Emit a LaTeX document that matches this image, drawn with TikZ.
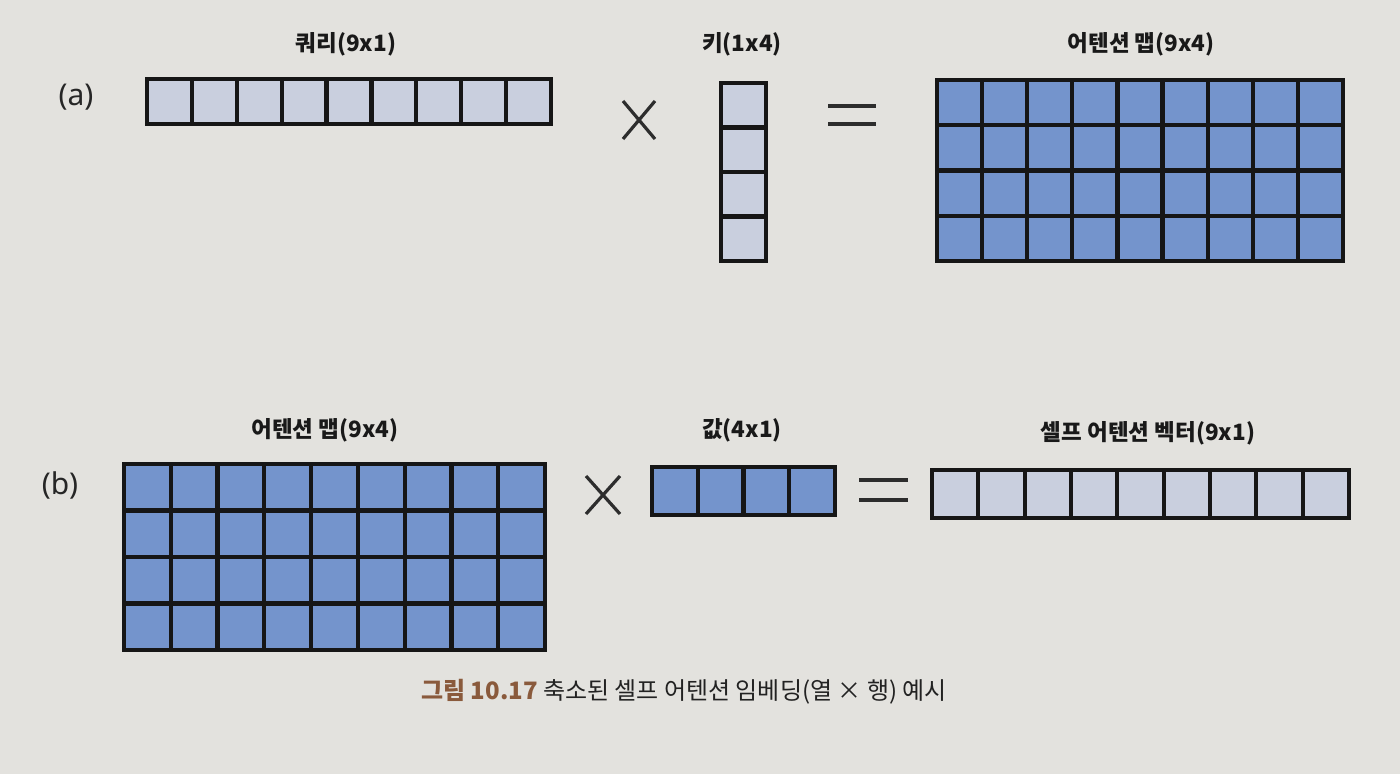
\documentclass[tikz,border=0pt]{standalone}
\usepackage{fontspec}
\setmainfont{Noto Sans CJK KR}
\newfontfamily\labfont{Noto Sans}
\definecolor{bgpaper}{HTML}{E3E2DE}
\definecolor{lightcell}{HTML}{C9CFDE}
\definecolor{bluecell}{HTML}{7494CC}
\definecolor{gridink}{HTML}{161616}
\definecolor{capbrown}{HTML}{8A5A3C}
\definecolor{capink}{HTML}{222222}
\newcommand\matgrid[8]{%
  % #1 name, #2 x0, #3 y0, #4 x1, #5 y1, #6 cols, #7 rows, #8 fill
  \path[fill=#8] (#2,#3) rectangle (#4,#5);
  \foreach \ii in {1,...,#6}{\ifnum\ii<#6\relax
    \draw[gridline] ({#2+(#4-#2)*\ii/#6},#3) -- ({#2+(#4-#2)*\ii/#6},#5);\fi}
  \foreach \jj in {1,...,#7}{\ifnum\jj<#7\relax
    \draw[gridline] (#2,{#3+(#5-#3)*\jj/#7}) -- (#4,{#3+(#5-#3)*\jj/#7});\fi}
  \draw[gridline] (#2,#3) rectangle (#4,#5);
  \coordinate (#1-n) at ({(#2+#4)/2},#3);
}
\tikzset{
  gridline/.style={draw=gridink, line width=4.2pt},
  opline/.style={draw=gridink!90, line width=3.2pt},
  matlabel/.style={font=\bfseries\fontsize{22.5}{24}\selectfont, text=black!90, inner sep=0pt},
  partlabel/.style={font=\labfont\fontsize{30}{32}\selectfont, text=black!85, inner sep=0pt},
}
\begin{document}
\begin{tikzpicture}[x=1pt,y=-1pt]
\fill[bgpaper] (0,0) rectangle (1400,774);
\useasboundingbox (0,0) rectangle (1400,774);

% (a)
\node[partlabel] (la) at (76,97) {(a)};
\matgrid{query}{147}{79}{551}{124}{9}{1}{lightcell}
\matgrid{key}{721}{83}{766}{261}{1}{4}{lightcell}
\matgrid{mapa}{937}{80}{1343}{261}{9}{4}{bluecell}
\node[matlabel] (tq) at (346,44) {쿼리(9x1)};
\node[matlabel] (tk) at (742,44) {키(1x4)};
\node[matlabel] (tma) at (1141,44) {어텐션 맵(9x4)};
\coordinate (xa1) at (623,101); \coordinate (xa2) at (655,139);
\coordinate (xa3) at (655,101); \coordinate (xa4) at (623,139);
\draw[opline] (xa1) -- (xa2) (xa3) -- (xa4);
\coordinate (ea1) at (828,106); \coordinate (ea2) at (876,106);
\coordinate (ea3) at (828,124); \coordinate (ea4) at (876,124);
\draw[opline] (ea1) -- (ea2) (ea3) -- (ea4);

% (b)
\node[partlabel] (lb) at (60,485) {(b)};
\matgrid{mapb}{124}{464}{545}{650}{9}{4}{bluecell}
\matgrid{val}{652}{467}{835}{515}{4}{1}{bluecell}
\matgrid{vec}{932}{470}{1349}{518}{9}{1}{lightcell}
\node[matlabel] (tmb) at (325,430) {어텐션 맵(9x4)};
\node[matlabel] (tv) at (742,430) {값(4x1)};
\node[matlabel] (tvec) at (1148,433) {셀프 어텐션 벡터(9x1)};
\coordinate (xb1) at (586,476); \coordinate (xb2) at (620,514);
\coordinate (xb3) at (620,476); \coordinate (xb4) at (586,514);
\draw[opline] (xb1) -- (xb2) (xb3) -- (xb4);
\coordinate (eb1) at (859,480); \coordinate (eb2) at (908,480);
\coordinate (eb3) at (859,500); \coordinate (eb4) at (908,500);
\draw[opline] (eb1) -- (eb2) (eb3) -- (eb4);

% caption
\node[inner sep=0pt, font=\fontsize{24}{26}\selectfont, text=capink] (cap) at (684,692)
  {\textcolor{capbrown}{\bfseries 그림 10.17} 축소된 셀프 어텐션 임베딩(열 × 행) 예시};
\end{tikzpicture}
\end{document}
